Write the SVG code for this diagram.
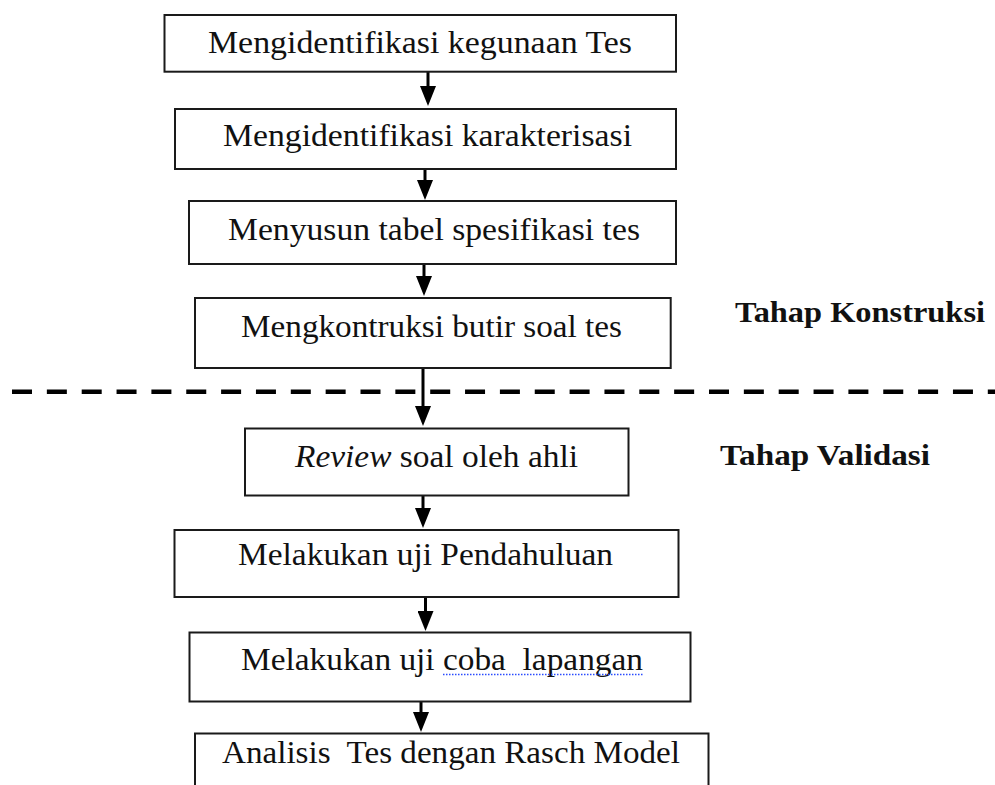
<svg xmlns="http://www.w3.org/2000/svg" width="995" height="785" viewBox="0 0 995 785">
<style>
.box{fill:#fff;stroke:#1a1a1a;stroke-width:2}
.t{font-family:"Liberation Serif","Times New Roman",serif;font-size:31px;fill:#111}
.lbl{font-family:"Liberation Serif","Times New Roman",serif;font-size:30px;font-weight:bold;fill:#111}
.arr{stroke:#000;stroke-width:3;fill:none;marker-end:url(#ah)}
</style>
<defs>
<marker id="ah" viewBox="0 0 20 16" refX="10" refY="8" markerWidth="20" markerHeight="16" markerUnits="userSpaceOnUse" orient="auto">
<path d="M0,0 L20,8 L0,16 z" fill="#000"/>
</marker>
</defs>
<rect width="995" height="785" fill="#fff"/>
<g id="divider">
<line x1="12" y1="391.7" x2="995" y2="391.7" stroke="#000" stroke-width="4.5" stroke-dasharray="20 14.85"/>
</g>
<g id="connectors">
<line class="arr" x1="428" y1="72" x2="428" y2="96"/>
<line class="arr" x1="425" y1="169" x2="425" y2="190"/>
<line class="arr" x1="424" y1="264" x2="424" y2="286"/>
<line class="arr" x1="423" y1="368" x2="423" y2="416"/>
<line class="arr" x1="423" y1="495" x2="423" y2="518"/>
<line class="arr" x1="425.5" y1="597" x2="425.5" y2="621"/>
<line class="arr" x1="421" y1="702" x2="421" y2="722"/>
</g>
<g id="n1"><rect class="box" x="164.5" y="15" width="511.5" height="56.7"/><text class="t" x="208" y="53.3" textLength="424" lengthAdjust="spacingAndGlyphs">Mengidentifikasi kegunaan Tes</text></g>
<g id="n2"><rect class="box" x="175" y="109" width="501" height="60"/><text class="t" x="223" y="145.7" textLength="409" lengthAdjust="spacingAndGlyphs">Mengidentifikasi karakterisasi</text></g>
<g id="n3"><rect class="box" x="189" y="201" width="487" height="63"/><text class="t" x="228" y="240" textLength="412" lengthAdjust="spacingAndGlyphs">Menyusun tabel spesifikasi tes</text></g>
<g id="n4"><rect class="box" x="195" y="298" width="475.7" height="70"/><text class="t" x="241" y="336.7" textLength="381" lengthAdjust="spacingAndGlyphs">Mengkontruksi butir soal tes</text></g>
<g id="n5"><rect class="box" x="245" y="428.5" width="383.5" height="67"/><text class="t" x="295" y="466.7" textLength="283" lengthAdjust="spacingAndGlyphs"><tspan font-style="italic">Review</tspan> soal oleh ahli</text></g>
<g id="n6"><rect class="box" x="174.5" y="530" width="504" height="67"/><text class="t" x="238" y="565" textLength="375" lengthAdjust="spacingAndGlyphs">Melakukan uji Pendahuluan</text></g>
<g id="n7"><rect class="box" x="189.5" y="632.5" width="501" height="69"/><text class="t" x="241" y="670" textLength="402" lengthAdjust="spacingAndGlyphs" xml:space="preserve">Melakukan uji coba  lapangan</text><line x1="443" y1="674.5" x2="643" y2="674.5" stroke="#2b4cff" stroke-width="1.6" stroke-dasharray="1.5 1.5"/></g>
<g id="n8"><rect class="box" x="195" y="733.5" width="513.5" height="80"/><text class="t" x="222" y="763" textLength="458" lengthAdjust="spacingAndGlyphs" xml:space="preserve">Analisis  Tes dengan Rasch Model</text></g>
<g id="label-konstruksi"><text class="lbl" x="735" y="321.7" textLength="250" lengthAdjust="spacingAndGlyphs">Tahap Konstruksi</text></g>
<g id="label-validasi"><text class="lbl" x="720" y="465" textLength="210" lengthAdjust="spacingAndGlyphs">Tahap Validasi</text></g>
</svg>
